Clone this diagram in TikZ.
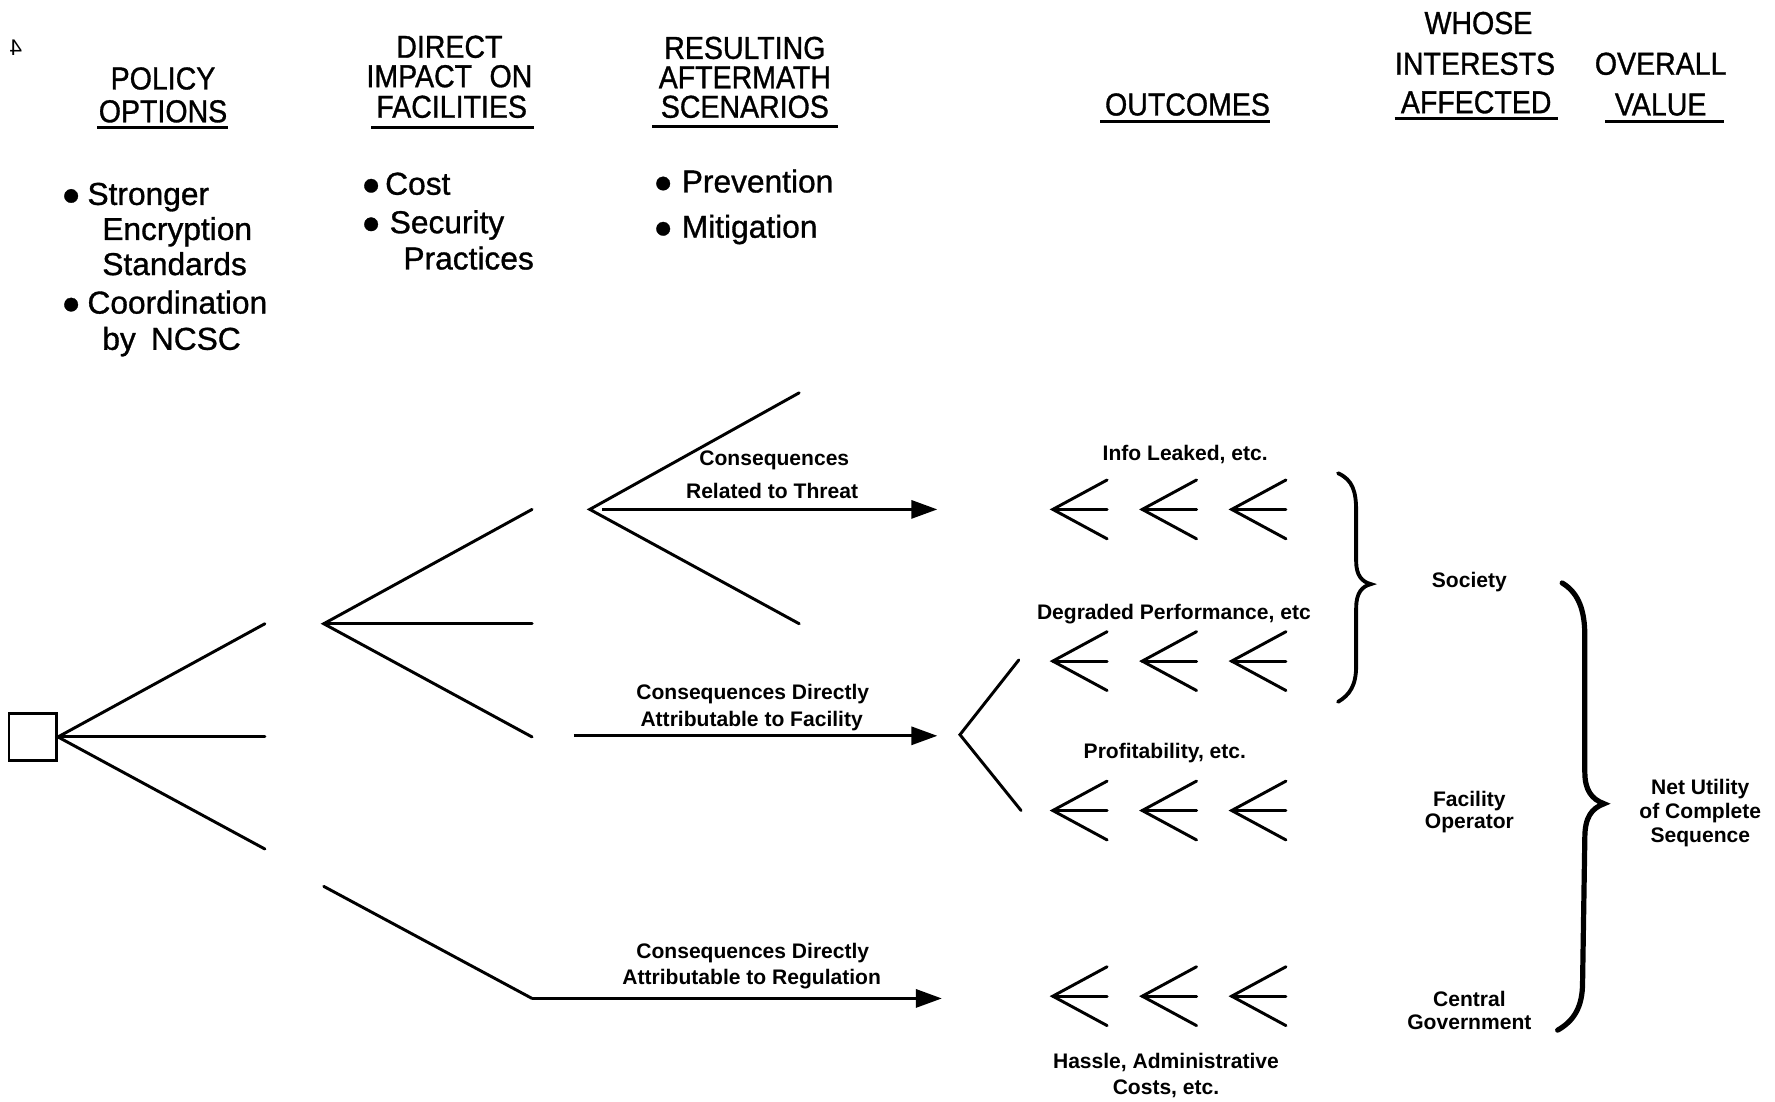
\documentclass[tikz,border=0pt]{standalone}
\usepackage{fontspec}
\setmainfont{Liberation Sans}
\newfontfamily\headfont[FakeStretch=0.9,FakeBold=1]{Liberation Sans}
\newfontfamily\itemfont[FakeBold=1]{Liberation Sans}
\usetikzlibrary{arrows.meta}
\begin{document}
\begin{tikzpicture}[x=0.5pt,y=-0.5pt,
  tree/.style={line width=1.3pt,line cap=round},
  conn/.style={line width=1.3pt,-{Triangle[length=11.5pt,width=8pt]}},
  rule/.style={line width=1.3pt},
  brace/.style={line width=#1,line cap=round},
  head/.style={font=\headfont\fontsize{14}{14}\selectfont,anchor=base,inner sep=0pt},
  item/.style={font=\itemfont\fontsize{14}{14}\selectfont,anchor=base west,inner sep=0pt},
  lbl/.style={font=\bfseries\fontsize{9.3}{10}\selectfont,anchor=base,inner sep=0pt},
  chev/.pic={
    \draw[tree] (48,-26) -- (0,0) -- (48,26);
    \draw[tree] (0,0) -- (48,0);
  }]
\useasboundingbox (0,0) rectangle (1568,973);

% page mark
\node[font=\fontsize{10}{10}\selectfont,xscale=-1,inner sep=0pt] (pg) at (14,42) {4};

% column headings
\node[head] (h1a) at (144,79) {POLICY};
\node[head] (h1b) at (144,108) {OPTIONS};
\draw[rule] (86,113) -- (201,113);

\node[head] (h2a) at (397,51) {DIRECT};
\node[head] (h2b) at (397,77) {IMPACT\hspace{0.3em} ON};
\node[head] (h2c) at (399,104) {FACILITIES};
\draw[rule] (328,113) -- (472,113);

\node[head] (h3a) at (658,52) {RESULTING};
\node[head] (h3b) at (658,78) {AFTERMATH};
\node[head] (h3c) at (658,104) {SCENARIOS};
\draw[rule] (576,112) -- (740,112);

\node[head] (h4) at (1049,102) {OUTCOMES};
\draw[rule] (972,107) -- (1122,107);

\node[head] (h5a) at (1306,30) {WHOSE};
\node[head] (h5b) at (1303,66) {INTERESTS};
\node[head] (h5c) at (1304,100) {AFFECTED};
\draw[rule] (1232,105) -- (1376,105);

\node[head] (h6a) at (1467,66) {OVERALL};
\node[head] (h6b) at (1467,102) {VALUE};
\draw[rule] (1418,107) -- (1523,107);

% bullet lists
\node[item] (p1) at (54,181) {●\hspace{3pt}Stronger};
\node[item] (p1b) at (90,212) {Encryption};
\node[item] (p1c) at (90,243) {Standards};
\node[item] (p2) at (54,277) {●\hspace{3pt}Coordination};
\node[item] (p2b) at (90,309) {by\hspace{0.2em} NCSC};

\node[item] (d1) at (319,172) {●\hspace{2pt}Cost};
\node[item] (d2) at (319,206) {●\hspace{4pt}Security};
\node[item] (d2b) at (356,238) {Practices};

\node[item] (s1) at (577,170) {●\hspace{4pt}Prevention};
\node[item] (s2) at (577,210) {●\hspace{4pt}Mitigation};

% decision tree
\node[draw,line width=1.2pt,minimum size=21pt,inner sep=0pt] (root) at (29,651) {};
\coordinate (a1) at (234,551);
\coordinate (a2) at (234,651);
\coordinate (a3) at (234,750);
\draw[tree] (a1) -- (root.east) -- (a3);
\draw[tree] (root.east) -- (a2);

\coordinate (b0) at (286,551);
\coordinate (b1) at (470,450);
\coordinate (b2) at (470,551);
\coordinate (b3) at (470,651);
\draw[tree] (b1) -- (b0) -- (b3);
\draw[tree] (b0) -- (b2);

\coordinate (c0) at (521,450);
\coordinate (c1) at (706,347);
\coordinate (c2) at (706,551);
\coordinate (c0s) at (532,450);
\coordinate (t1) at (828,450);
\draw[tree] (c1) -- (c0) -- (c2);
\draw[conn] (c0s) -- (t1);

\coordinate (d0) at (507,650);
\coordinate (t2) at (828,650);
\draw[conn] (d0) -- (t2);

\coordinate (e0) at (286,783);
\coordinate (e1) at (470,882);
\coordinate (t3) at (832,882);
\draw[tree] (e0) -- (e1);
\draw[conn] (e1) -- (t3);

\coordinate (f0) at (848,649);
\coordinate (f1) at (900,583);
\coordinate (f2) at (902,716);
\draw[tree] (f1) -- (f0) -- (f2);

% branch labels
\node[lbl] (l1a) at (684,411) {Consequences};
\node[lbl] (l1b) at (682,440) {Related to Threat};
\node[lbl] (l2a) at (665,618) {Consequences Directly};
\node[lbl] (l2b) at (664,642) {Attributable to Facility};
\node[lbl] (l3a) at (665,847) {Consequences Directly};
\node[lbl] (l3b) at (664,870) {Attributable to Regulation};

% outcome chevrons
\foreach \r/\y in {1/450,2/584,3/716,4/880}{
  \foreach \c/\x in {1/930,2/1009,3/1088}{
    \pic (ch\r\c) at (\x,\y) {chev};
  }
}

% outcome labels
\node[lbl] (o1) at (1047,407) {Info Leaked, etc.};
\node[lbl] (o2) at (1037,547) {Degraded Performance, etc};
\node[lbl] (o3) at (1029,670) {Profitability, etc.};
\node[lbl] (o4a) at (1030,944) {Hassle, Administrative};
\node[lbl] (o4b) at (1030,967) {Costs, etc.};

% braces
\draw[brace=1.7pt] (1182,418) .. controls (1195,424) and (1198,434) .. (1198,452)
  -- (1198,496) .. controls (1198,508) and (1203,514) .. (1211,516)
  .. controls (1203,518) and (1198,524) .. (1198,537)
  -- (1198,588) .. controls (1198,606) and (1192,614) .. (1182,620);
\draw[brace=2.3pt] (1380,515) .. controls (1395,524) and (1400,540) .. (1400,562)
  -- (1400,682) .. controls (1400,698) and (1406,706) .. (1417,710)
  .. controls (1406,714) and (1400,722) .. (1400,740)
  -- (1398,868) .. controls (1398,890) and (1390,902) .. (1376,910);

% interest groups and overall value
\node[lbl] (g1) at (1298,519) {Society};
\node[lbl] (g2a) at (1298,712) {Facility};
\node[lbl] (g2b) at (1298,732) {Operator};
\node[lbl] (g3a) at (1298,889) {Central};
\node[lbl] (g3b) at (1298,909) {Government};
\node[lbl] (v1) at (1502,702) {Net Utility};
\node[lbl] (v2) at (1502,723) {of Complete};
\node[lbl] (v3) at (1502,744) {Sequence};
\end{tikzpicture}
\end{document}
